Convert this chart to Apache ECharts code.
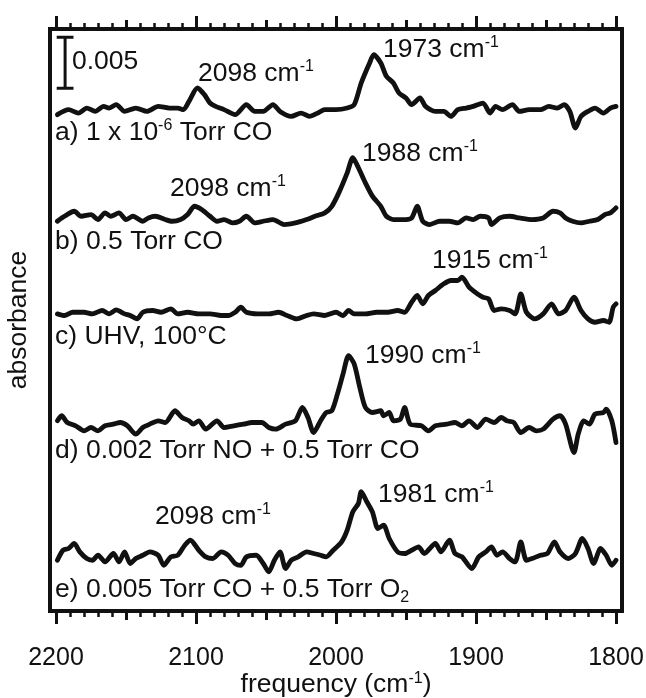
<!DOCTYPE html>
<html><head><meta charset="utf-8">
<script src="https://cdn.jsdelivr.net/npm/echarts@6/dist/echarts.min.js"></script>
<style>html,body{margin:0;padding:0;background:#fff}#c{width:646px;height:698px}</style>
</head><body><div id="c"></div>
<script>
// x tick labels (cm-1)
const xTickLabels = [2200, 2100, 2000, 1900, 1800];
// spectra: [frequency cm-1, absorbance change in mAbs (1e-3)] relative to each trace baseline
const traceA = [[2199,-0.29],[2191,0.20],[2184,-0.13],[2178,0.36],[2172,0.03],[2166,0.52],[2162,0.36],[2157,0.69],[2151,0.03],[2143,0.36],[2135,0.03],[2127,0.52],[2119,0.36],[2113,0.36],[2109,0.20],[2105,1.01],[2099,2.32],[2094,1.67],[2090,0.85],[2086,0.52],[2080,0.20],[2072,-0.29],[2064,0.69],[2058,0.03],[2052,0.03],[2045,0.69],[2040,0.03],[2032,-0.46],[2025,-0.13],[2019,-0.46],[2013,-0.13],[2008,0.20],[2000,0.20],[1992,0.36],[1987,0.69],[1982,2.81],[1976,4.77],[1973,5.59],[1968,4.77],[1964,3.47],[1959,2.81],[1955,1.83],[1950,1.34],[1946,0.69],[1940,1.34],[1936,0.52],[1929,0.03],[1923,0.03],[1918,-0.46],[1913,0.20],[1907,0.36],[1902,0.52],[1895,0.85],[1890,-0.13],[1886,0.52],[1881,0.20],[1874,0.69],[1869,0.03],[1862,0.20],[1854,0.20],[1848,0.52],[1842,0.36],[1837,0.69],[1833,0.03],[1829,-1.60],[1825,-0.46],[1820,0.03],[1815,0.36],[1809,-0.13],[1804,0.36],[1800,0.52]];
const traceB = [[2199,-0.33],[2194,0.16],[2187,0.65],[2182,0.16],[2175,0.33],[2170,-0.16],[2165,0.49],[2161,0.16],[2155,0.49],[2150,-0.16],[2145,0.16],[2138,-0.33],[2134,0],[2129,0.16],[2122,-0.16],[2117,-0.33],[2111,-0.16],[2106,0.33],[2101,1.14],[2096,0.82],[2090,0.16],[2085,-0.33],[2080,-0.16],[2074,-0.49],[2069,-0.33],[2064,0.16],[2058,-0.49],[2052,-0.33],[2045,-0.16],[2037,-0.65],[2029,-0.49],[2021,-0.16],[2015,0.16],[2008,0.49],[2003,1.14],[1998,2.45],[1992,4.41],[1988,5.89],[1984,4.91],[1979,3.43],[1974,2.13],[1968,1.14],[1964,0.16],[1959,-0.16],[1952,-0.16],[1946,0],[1942,1.14],[1938,-0.33],[1933,-0.65],[1926,-0.33],[1919,-0.33],[1913,-0.49],[1907,0],[1902,-0.16],[1897,0.16],[1891,0],[1889,-0.65],[1883,0],[1876,0.16],[1869,0],[1860,-0.16],[1852,0],[1845,0.65],[1840,0.49],[1836,0],[1831,-0.33],[1825,-0.49],[1819,-0.33],[1813,-0.16],[1808,0.33],[1804,0.49],[1800,0.98]];
const traceC = [[2199,0],[2194,-0.16],[2188,0.16],[2180,0.16],[2174,0],[2167,0.33],[2162,0],[2157,0.39],[2151,0],[2147,-0.16],[2142,-0.49],[2138,0.16],[2131,0.33],[2125,0.16],[2118,0.49],[2113,0],[2106,0.16],[2098,0],[2090,0],[2082,-0.16],[2077,-0.16],[2072,0.16],[2068,0.65],[2064,0.16],[2056,0],[2048,0],[2041,0.16],[2035,-0.16],[2028,-0.49],[2021,-0.16],[2016,0],[2008,-0.16],[2000,0.16],[1995,-0.16],[1991,0.33],[1987,0],[1979,0],[1971,0.16],[1963,0.16],[1956,0.33],[1951,0.16],[1946,1.14],[1942,1.80],[1938,0.98],[1934,1.80],[1929,2.29],[1923,2.94],[1918,3.27],[1913,3.27],[1910,3.60],[1905,2.62],[1899,1.96],[1895,1.63],[1891,1.47],[1887,0.33],[1882,0.49],[1876,0.33],[1872,0],[1868,1.96],[1864,0.16],[1858,-0.49],[1852,0],[1846,0.98],[1841,0],[1836,0.33],[1830,1.63],[1825,0.33],[1820,-0.49],[1815,-0.82],[1809,-0.65],[1805,-0.82],[1802,0.65],[1800,0.98]];
const traceD = [[2199,0.33],[2196,0.82],[2192,0.16],[2186,-0.16],[2180,-0.65],[2175,-0.33],[2170,-0.65],[2165,-0.16],[2159,0],[2154,0.16],[2149,-0.16],[2143,-0.98],[2138,-0.33],[2133,0],[2127,0.33],[2122,0.16],[2115,1.31],[2110,0.65],[2105,0.33],[2102,0],[2098,0.33],[2093,-0.49],[2085,0.33],[2080,-0.33],[2073,-0.16],[2066,0],[2060,0.16],[2053,0.16],[2048,-0.33],[2043,-0.49],[2036,0],[2029,0.33],[2024,1.63],[2020,0.65],[2016,-0.82],[2011,0.33],[2007,1.14],[2003,1.31],[1999,2.94],[1995,4.90],[1991,6.70],[1987,5.89],[1983,3.60],[1979,1.63],[1974,1.14],[1968,1.31],[1966,0.82],[1962,1.14],[1959,0.33],[1954,0.49],[1951,1.63],[1947,0],[1939,-0.16],[1934,-0.65],[1929,-0.16],[1921,0],[1915,0.16],[1910,-0.16],[1905,0.33],[1899,-0.33],[1893,0.49],[1887,0.16],[1882,0.65],[1878,0.33],[1873,0.16],[1868,-0.82],[1862,-0.33],[1857,-0.65],[1852,-0.49],[1845,0.49],[1840,0.82],[1836,0],[1830,-2.78],[1827,-0.98],[1823,0.33],[1819,0],[1815,0.98],[1809,1.14],[1807,1.47],[1803,0.33],[1800,-1.80]];
const traceE = [[2199,-0.33],[2195,0.65],[2191,0.82],[2187,1.31],[2183,0.49],[2178,-0.16],[2174,-0.33],[2170,0.16],[2165,-0.49],[2159,0.33],[2155,-0.49],[2151,0.49],[2147,-0.65],[2143,-0.16],[2138,0.16],[2133,0.49],[2127,0.16],[2123,-0.82],[2118,0],[2113,0.16],[2108,1.14],[2104,1.63],[2098,0.65],[2093,0],[2088,-0.16],[2082,0.49],[2077,0.16],[2072,-0.65],[2068,-0.82],[2064,0],[2057,0.16],[2052,-0.65],[2048,-1.47],[2044,-0.33],[2040,0.49],[2036,-1.14],[2032,-0.33],[2027,0],[2021,0.49],[2016,0.33],[2011,0.16],[2007,0],[2002,0.65],[1996,1.47],[1992,2.62],[1988,4.41],[1984,5.23],[1982,6.38],[1978,5.40],[1974,4.41],[1970,2.78],[1966,3.11],[1962,1.80],[1956,0.49],[1951,0.33],[1946,0.65],[1941,0.98],[1937,0.33],[1929,1.31],[1925,0.49],[1919,1.63],[1915,0.33],[1910,0],[1903,-1.14],[1898,0],[1893,0.49],[1889,0.98],[1885,0.16],[1881,0.49],[1876,-0.16],[1872,-0.49],[1868,1.47],[1864,-0.33],[1860,-0.16],[1854,0.16],[1849,0.33],[1844,1.47],[1840,0.49],[1834,-0.16],[1829,0.33],[1824,1.80],[1820,0.82],[1816,-0.65],[1811,0.82],[1807,0.16],[1803,-0.82],[1800,-0.33]];
// vertical stacking offsets (mAbs)
const traceOffsets = [48.9, 38.5, 29.1, 18.3, 5.3];
// trace captions and peak labels
const traceCaptions = ['a) 1 x 10{s|-6} Torr CO', 'b) 0.5 Torr CO', 'c) UHV, 100°C', 'd) 0.002 Torr NO + 0.5 Torr CO', 'e) 0.005 Torr CO + 0.5 Torr O{b|2}'];
const peakLabels = ['2098', '1973', '2098', '1988', '1915', '1990', '2098', '1981'];
// scale bar: 0.005 absorbance = 5 mAbs
const scaleBarText = '0.005';
const scaleBarLength = 5;
const scaleBarBase = 51.2;
const scaleBarFreq = 2193.5;
const scaleBarCap = 6;

const FONT = "'Liberation Sans', Arial, Helvetica, sans-serif";
const INK = '#111';
const FS = 26.5;
const rich = {
  n: { fontSize: FS, fontFamily: FONT, fill: INK, color: INK, lineHeight: 31 },
  s: { fontSize: 16, fontFamily: FONT, fill: INK, color: INK, lineHeight: 16, verticalAlign: 'top' },
  b: { fontSize: 16, fontFamily: FONT, fill: INK, color: INK, lineHeight: 16, verticalAlign: 'bottom' }
};
function wrapRich(t) {
  return t.split(/(\{[sb]\|[^}]*\})/).filter(p => p.length).map(p => p.startsWith('{') ? p : '{n|' + p + '}').join('');
}
// layout (pixel positions for text)
const captionPos = [[55, 133], [55, 242], [55, 337], [55, 451], [55, 590]];
const peakPos = [[198, 74], [383, 50], [170, 189], [362, 154], [432, 261], [365, 356], [155, 517], [378, 495]];
const graphics = [];
graphics.push({ type: 'rect', shape: { x: 50, y: 29, width: 572, height: 582 }, style: { fill: 'none', stroke: INK, lineWidth: 4 }, z: 100 });
const txtStyle = (t) => ({ text: wrapRich(t), rich: rich, verticalAlign: 'middle', align: 'left', font: FS + 'px ' + FONT, fill: INK });
traceCaptions.forEach((t, i) => graphics.push({ type: 'text', x: captionPos[i][0], y: captionPos[i][1], z: 101, style: txtStyle(t) }));
peakLabels.forEach((t, i) => graphics.push({ type: 'text', x: peakPos[i][0], y: peakPos[i][1], z: 101, style: txtStyle(t + ' cm{s|-1}') }));
graphics.push({ type: 'text', x: 72, y: 62, z: 101, style: txtStyle(scaleBarText) });

const traces = [traceA, traceB, traceC, traceD, traceE];
const series = traces.map((tr, i) => ({
  type: 'line', xAxisIndex: 0, yAxisIndex: 0, showSymbol: false, smooth: 0.25, silent: true,
  lineStyle: { color: INK, width: 4.8, join: 'round', cap: 'round' },
  data: tr.map(p => [p[0], p[1] + traceOffsets[i]])
}));
const sbTop = scaleBarBase + scaleBarLength;
series.push({
  type: 'line', xAxisIndex: 0, yAxisIndex: 0, showSymbol: false, silent: true, connectNulls: false,
  lineStyle: { color: INK, width: 3 },
  data: [[scaleBarFreq + scaleBarCap, sbTop], [scaleBarFreq - scaleBarCap, sbTop], [scaleBarFreq, '-'],
         [scaleBarFreq, sbTop], [scaleBarFreq, scaleBarBase], [scaleBarFreq, '-'],
         [scaleBarFreq + scaleBarCap, scaleBarBase], [scaleBarFreq - scaleBarCap, scaleBarBase]]
});

function xAx(pos, interval, len, labels, minor) {
  return {
    type: 'value', position: pos, min: xTickLabels[xTickLabels.length - 1], max: xTickLabels[0], inverse: true,
    interval: interval, gridIndex: 0,
    axisLine: { show: false },
    splitLine: { show: false },
    axisTick: { show: true, inside: false, length: len, lineStyle: { color: INK, width: 3 } },
    minorTick: { show: minor, splitNumber: 10, length: 6, lineStyle: { color: INK, width: 2.5 } },
    axisLabel: { show: labels, fontSize: 25, fontFamily: FONT, color: INK, margin: 35, formatter: (v) => String(v) },
    name: labels ? 'frequency (cm{s|-1})' : '',
    nameLocation: 'middle', nameGap: 60, nameMoveOverlap: false,
    nameTextStyle: { fontSize: FS, fontFamily: FONT, color: INK, rich: { s: { fontSize: 16, fontFamily: FONT, color: INK, verticalAlign: 'top', lineHeight: 16 } } }
  };
}

const chart = echarts.init(document.getElementById('c'), null, { renderer: 'canvas' });
chart.setOption({
  animation: false,
  backgroundColor: '#fff',
  grid: { left: 56, right: 30, top: 29, bottom: 87, containLabel: false, outerBoundsMode: 'none' },
  xAxis: [xAx('bottom', 100, 13, true, true), xAx('bottom', 50, 9, false, false), xAx('top', 100, 13, false, true), xAx('top', 50, 9, false, false)],
  yAxis: [{ type: 'value', min: 0, max: 57, gridIndex: 0,
    axisLine: { show: false }, axisTick: { show: false }, axisLabel: { show: false }, splitLine: { show: false },
    name: 'absorbance', nameLocation: 'middle', nameGap: 24, nameRotate: 90, nameMoveOverlap: false,
    nameTextStyle: { fontSize: FS, fontFamily: FONT, color: INK } }],
  series: series,
  graphic: graphics
});
</script></body></html>
